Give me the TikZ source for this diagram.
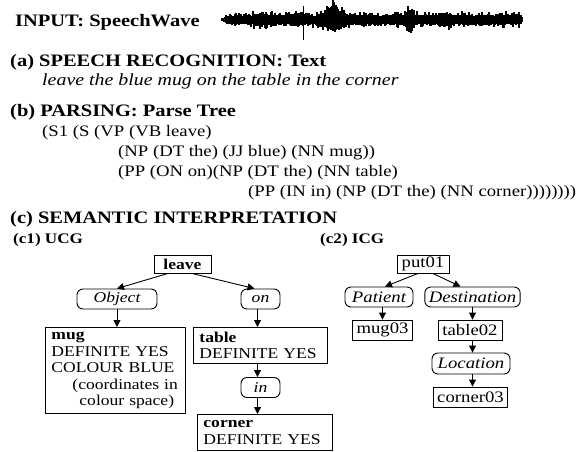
\documentclass[tikz,border=0pt]{standalone}
\usepackage{fontspec}
\setmainfont[FakeStretch=1.17]{Liberation Serif}
\usetikzlibrary{arrows.meta,calc}

\begin{document}
\begin{tikzpicture}[x=1pt,y=-1pt,
  head/.style={anchor=base west,inner sep=0pt,font=\fontsize{17.5}{20}\selectfont\bfseries},
  subhead/.style={anchor=base west,inner sep=0pt,font=\fontsize{14.6}{17}\selectfont\bfseries},
  body/.style={anchor=base west,inner sep=0pt,font=\fontsize{16}{19}\selectfont},
  frame/.style={draw,line width=0.9pt,inner xsep=4pt,inner ysep=2pt,minimum height=19pt,font=\fontsize{16}{19}\selectfont},
  ucgbox/.style={draw,line width=0.9pt,anchor=north west,align=left,inner xsep=6pt,inner ysep=3pt,font=\fontsize{15}{16.5}\selectfont},
  role/.style={draw,line width=0.9pt,rounded corners=6pt,inner xsep=4pt,inner ysep=2pt,minimum height=20pt,font=\fontsize{16}{19}\selectfont\itshape},
  link/.style={-{Triangle[length=7pt,width=7pt]},line width=0.9pt}]
\useasboundingbox (0,0) rectangle (587,452);

% input and speech wave
\node[head] (hdinput) at (15,27) {INPUT: SpeechWave};
\pgfmathsetseed{11}
\foreach \i in {0,...,300}{
  \pgfmathsetmacro\wx{222+\i}
  \pgfmathsetmacro\wtp{min(1,(\i+3)/12,(303-\i)/5)}
  \pgfmathsetmacro\wenv{\wtp*(7.5+12*exp(max(-9,-((\wx-334)/9)^2))+10*exp(max(-9,-((\wx-410)/4)^2))+4*exp(max(-9,-((\wx-446)/5)^2))+2.5*exp(max(-9,-((\wx-262)/8)^2))+2.5*exp(max(-9,-((\wx-298)/6)^2)))}
  \pgfmathsetmacro\whi{\wenv*(0.55+0.7*rnd*rnd)}
  \pgfmathsetmacro\wlo{\wenv*(0.5+0.6*rnd*rnd)}
  \draw[line width=1.2pt] (\wx,{20-\whi}) -- (\wx,{20+\wlo});
}
\draw[line width=1pt] (303,6) -- (303,40);

% (a) and (b)
\node[head] (hdrec) at (10,67) {(a) SPEECH RECOGNITION: Text};
\node[anchor=base west,inner sep=0pt,font=\fontsize{17}{20}\selectfont\itshape] (sent) at (42,85) {leave the blue mug on the table in the corner};
\node[head] (hdparse) at (10,117) {(b) PARSING: Parse Tree};
\node[body] (pl1) at (42,136) {(S1 (S (VP (VB leave)};
\node[body] (pl2) at (118,156) {(NP (DT the) (JJ blue) (NN mug))};
\node[body] (pl3) at (118,176) {(PP (ON on)(NP (DT the) (NN table)};
\node[body] (pl4) at (248,196) {(PP (IN in) (NP (DT the) (NN corner))))))))};

% (c)
\node[head] (hdsem) at (10,223) {(c) SEMANTIC INTERPRETATION};
\node[subhead] (hducg) at (13,243) {(c1) UCG};
\node[subhead] (hdicg) at (320,243) {(c2) ICG};

% UCG
\node[frame,font=\fontsize{15}{17}\selectfont\bfseries,minimum width=57pt,minimum height=18pt] (ucgleave) at (182.5,264) {leave};
\node[role,font=\fontsize{15}{17}\selectfont\itshape,minimum width=80pt] (ucgobj) at (117,299) {Object};
\node[role,font=\fontsize{15}{17}\selectfont\itshape,minimum width=39pt] (ucgon) at (260.5,299) {on};
\node[ucgbox,text width=128pt,minimum height=86pt] (ucgmug) at (45,327) {\textbf{mug}\\DEFINITE YES\\COLOUR BLUE\\\hspace*{21pt}(coordinates in\\\hspace*{28pt}colour space)};
\node[ucgbox,text width=122pt,minimum height=36pt] (ucgtable) at (193,327) {\textbf{table}\\DEFINITE YES};
\node[role,font=\fontsize{15}{17}\selectfont\itshape,minimum width=39pt] (ucgin) at (260.5,387.5) {in};
\node[ucgbox,text width=123pt,minimum height=36pt] (ucgcorner) at (197,414) {\textbf{corner}\\DEFINITE YES};

\draw[link] ($(ucgleave.south)+(-14.5,0)$) -- (ucgobj.north);
\draw[link] ($(ucgleave.south)+(9.5,0)$) -- ($(ucgon.north)+(-6,0)$);
\draw[link] (ucgobj.south) -- (ucgobj.south |- ucgmug.north);
\draw[link] ($(ucgon.south)+(-3,0)$) -- ($(ucgon.south |- ucgtable.north)+(-3,0)$);
\draw[link] ($(ucgin.south |- ucgtable.south)+(-3,0)$) -- ($(ucgin.north)+(-3,0)$);
\draw[link] ($(ucgin.south)+(-3,0)$) -- ($(ucgin.south |- ucgcorner.north)+(-3,0)$);

% ICG
\node[frame,minimum width=52pt,minimum height=18pt] (icgput) at (423,264) {put01};
\node[role,minimum width=68pt] (icgpatient) at (379,297) {Patient};
\node[role,minimum width=95pt] (icgdest) at (472.5,297) {Destination};
\node[frame,minimum width=59pt,minimum height=20pt] (icgmug) at (382.5,330) {mug03};
\node[frame,minimum width=64pt,minimum height=20pt] (icgtable) at (470,330) {table02};
\node[role,minimum width=78pt,minimum height=21pt] (icgloc) at (471,363.5) {Location};
\node[frame,minimum width=71pt,minimum height=20pt] (icgcorner) at (470.5,397) {corner03};

\draw[link] ($(icgput.south)+(-5,0)$) -- ($(icgpatient.north)+(6,0)$);
\draw[link] ($(icgput.south)+(10,0)$) -- ($(icgdest.north)+(-12,0)$);
\draw[link] (icgmug.north |- icgpatient.south) -- (icgmug.north);
\draw[link] (icgdest.south) -- (icgdest.south |- icgtable.north);
\draw[link] (icgdest.south |- icgtable.south) -- (icgdest.south |- icgloc.north);
\draw[link] (icgdest.south |- icgloc.south) -- (icgdest.south |- icgcorner.north);
\end{tikzpicture}
\end{document}
